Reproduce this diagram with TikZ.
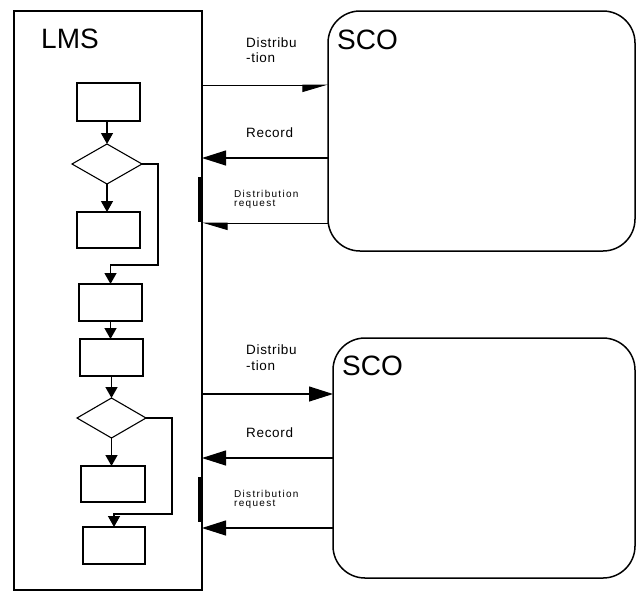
\documentclass[tikz,border=0pt]{standalone}
\usepackage{fontspec}
\setmainfont{Liberation Sans}
\usetikzlibrary{shapes.geometric,arrows.meta,calc}
\begin{document}
\begin{tikzpicture}[x=1pt,y=-1pt,
  fbox/.style={draw, line width=1.4pt, rectangle, inner sep=0pt, outer sep=0pt},
  fdia/.style={draw, line width=1.1pt, diamond, inner sep=0pt, outer sep=0pt},
  flow/.style={line width=1.3pt, -{Triangle[length=11pt,width=12pt]}},
  conn/.style={line width=1.2pt, -{Triangle[length=24pt,width=15pt]}},
  lbl/.style={anchor=base west, inner sep=0pt, font=\fontsize{13.5}{15}\selectfont\addfontfeature{LetterSpace=5}},
  slbl/.style={anchor=base west, inner sep=0pt, font=\fontsize{10}{11}\selectfont\addfontfeature{LetterSpace=13}},
  ttl/.style={anchor=base west, inner sep=0pt, font=\fontsize{28}{30}\selectfont},
  scobox/.style={draw, line width=1.5pt, rounded corners=32pt, inner sep=0pt, outer sep=0pt},
]
\useasboundingbox (0,0) rectangle (636,592);

% LMS frame
\node[draw, line width=2pt, minimum width=188pt, minimum height=579pt, inner sep=0pt, outer sep=0pt] (lms) at (108,300.5) {};
\node[ttl] (lmst) at (41,48) {LMS};

% SCO boxes
\node[scobox, minimum width=307pt, minimum height=240pt] (sco1) at (481.5,131) {};
\node[ttl] (sco1t) at (337,49) {SCO};
\node[scobox, minimum width=302pt, minimum height=240pt] (sco2) at (484,458) {};
\node[ttl] (sco2t) at (342,375) {SCO};

% flowchart
\node[fbox, minimum width=63pt, minimum height=38pt] (b1) at (108.5,102) {};
\node[fdia, minimum width=70pt, minimum height=40pt] (d1) at (107,164) {};
\node[fbox, minimum width=63pt, minimum height=36pt] (b2) at (108.5,230) {};
\node[fbox, minimum width=63pt, minimum height=37pt] (b3) at (110.5,302.5) {};
\node[fbox, minimum width=63pt, minimum height=37pt] (b4) at (111.5,357.5) {};
\node[fdia, minimum width=69pt, minimum height=40pt] (d2) at (111.5,418) {};
\node[fbox, minimum width=64pt, minimum height=36pt] (b5) at (113,484) {};
\node[fbox, minimum width=62pt, minimum height=37pt] (b6) at (114,545.5) {};

\draw[flow] (d1.north |- b1.south) -- (d1.north);
\draw[flow] (d1.south) -- (d1.south |- b2.north);
\draw[flow] (d1.east) -- (158,164) -- (158,265) -| (b3.north);
\draw[flow] (b3.south) -- (b3.south |- b4.north);
\draw[flow] (d2.north |- b4.south) -- (d2.north);
\draw[flow] (d2.south) -- (d2.south |- b5.north);
\draw[flow] (d2.east) -- (172,418) -- (172,514) -| (b6.north);

% connectors, upper SCO
\coordinate (ya) at (0,85);
\coordinate (yb) at (0,158);
\coordinate (yc) at (0,223);
\draw[line width=0.9pt, -{Triangle[length=24pt,width=14pt,harpoon,swap]}] (lms.east |- ya) -- (sco1.west |- ya);
\draw[conn] (sco1.west |- yb) -- (lms.east |- yb);
\draw[line width=0.9pt, -{Triangle[length=24pt,width=14pt,harpoon]}] (sco1.west |- yc) -- (lms.east |- yc);
\draw[line width=4.5pt] (199.75,177) -- (199.75,222);
\node[lbl] (l1a) at (246,47.7) {Distribu};
\node[lbl] (l1b) at (246,62.7) {-tion};
\node[lbl] (l2) at (246,137.3) {Record};
\node[slbl] (l3a) at (234,197.3) {Distribution};
\node[slbl] (l3b) at (234,206.5) {request};

% connectors, lower SCO
\coordinate (yd) at (0,394);
\coordinate (ye) at (0,458);
\coordinate (yf) at (0,528);
\draw[conn] (lms.east |- yd) -- (sco2.west |- yd);
\draw[conn] (sco2.west |- ye) -- (lms.east |- ye);
\draw[conn] (sco2.west |- yf) -- (lms.east |- yf);
\draw[line width=4.5pt] (199.75,477) -- (199.75,522);
\node[lbl] (l4a) at (246,354.3) {Distribu};
\node[lbl] (l4b) at (246,370) {-tion};
\node[lbl] (l5) at (246,437.3) {Record};
\node[slbl] (l6a) at (234,497.7) {Distribution};
\node[slbl] (l6b) at (234,506.9) {request};
\end{tikzpicture}
\end{document}
